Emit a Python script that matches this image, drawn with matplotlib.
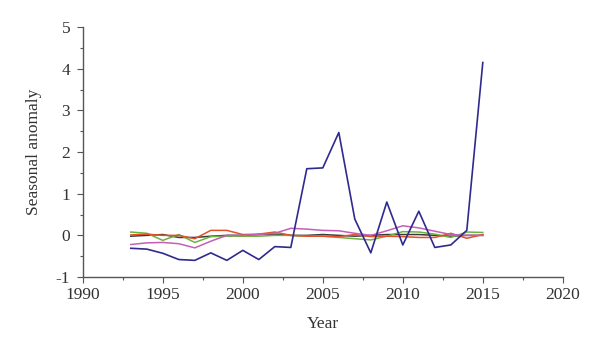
import matplotlib
matplotlib.use("Agg")
import matplotlib.pyplot as plt
from matplotlib.ticker import MultipleLocator

# -- data --
years = list(range(1993, 2016))

blue = [-0.31, -0.33, -0.43, -0.58, -0.60, -0.42, -0.60, -0.36, -0.58, -0.27, -0.29,
        1.60, 1.62, 2.47, 0.39, -0.42, 0.80, -0.23, 0.58, -0.29, -0.23, 0.12, 4.15]
pink = [-0.22, -0.18, -0.17, -0.20, -0.30, -0.14, 0.00, 0.00, 0.02, 0.05, 0.17,
        0.15, 0.12, 0.11, 0.05, 0.00, 0.11, 0.23, 0.18, 0.10, 0.02, 0.00, 0.00]
orange = [0.01, 0.03, 0.00, 0.00, -0.08, 0.12, 0.12, 0.02, 0.03, 0.08, 0.00,
          -0.02, -0.02, -0.03, 0.02, -0.03, -0.02, -0.03, -0.05, -0.05, 0.05, -0.07, 0.02]
green = [0.08, 0.05, -0.12, 0.02, -0.17, -0.03, -0.02, -0.02, -0.02, 0.00, 0.00,
         -0.02, -0.02, -0.05, -0.08, -0.11, -0.02, 0.09, 0.08, 0.03, -0.05, 0.08, 0.07]
black = [-0.02, 0.00, 0.02, -0.05, -0.05, -0.02, 0.00, 0.00, 0.02, 0.03, 0.00,
         0.00, 0.02, 0.00, -0.02, 0.00, 0.02, 0.02, 0.02, 0.00, -0.02, 0.00, 0.00]

plt.rcParams['font.family'] = ['Liberation Serif', 'DejaVu Serif']
plt.rcParams['axes.unicode_minus'] = False

fig = plt.figure(figsize=(6, 3.52), dpi=100)
ax = fig.add_axes([0.138, 0.213, 0.8, 0.71])

ax.plot(years, black, color='#3a3a3a', lw=1.1)
ax.plot(years, green, color='#6cb33f', lw=1.1)
ax.plot(years, orange, color='#e4502a', lw=1.1)
ax.plot(years, pink, color='#c45fb8', lw=1.1)
ax.plot(years, blue, color='#2f2a8e', lw=1.2)

ax.set_xlim(1990, 2020)
ax.set_ylim(-1, 5)
ax.xaxis.set_major_locator(MultipleLocator(5))
ax.xaxis.set_minor_locator(MultipleLocator(2.5))
ax.yaxis.set_major_locator(MultipleLocator(1))
ax.yaxis.set_minor_locator(MultipleLocator(0.5))

for s in ['top', 'right']:
    ax.spines[s].set_visible(False)
for s in ['left', 'bottom']:
    ax.spines[s].set_color('#555555')
    ax.spines[s].set_linewidth(1.0)

ax.tick_params(which='major', direction='out', length=4, width=0.8, color='#555555',
               labelsize=12.5, labelcolor='#333333')
ax.tick_params(axis='y', which='major', pad=5)
ax.tick_params(which='minor', direction='out', length=2.5, width=0.8, color='#555555')

ax.set_xlabel('Year', fontsize=12.5, color='#333333', labelpad=9)
ax.set_ylabel('Seasonal anomaly', fontsize=12.5, color='#333333', labelpad=10)

fig.savefig('out.png', dpi=100)
